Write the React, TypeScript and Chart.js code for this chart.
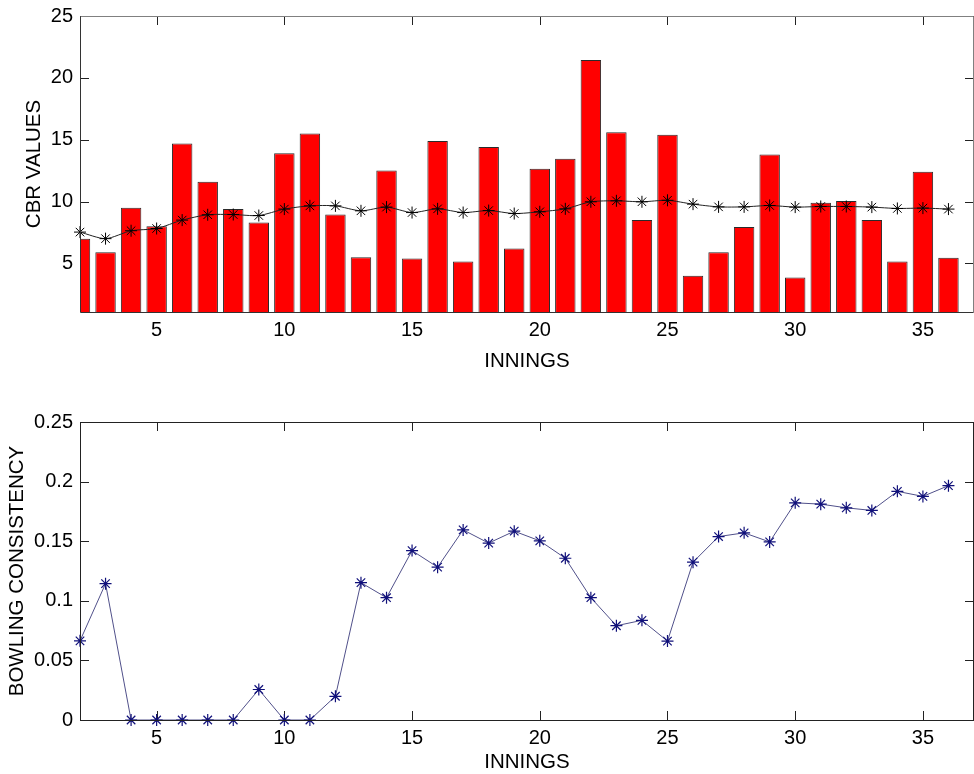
import React, { useEffect, useRef } from "react";
import { Chart, registerables } from "chart.js";

Chart.register(...registerables);

// ---- data ----
const innings = [2, 3, 4, 5, 6, 7, 8, 9, 10, 11, 12, 13, 14, 15, 16, 17, 18, 19, 20, 21, 22, 23, 24, 25, 26, 27, 28, 29, 30, 31, 32, 33, 34, 35, 36];
const cbrValues = [7.0, 5.9, 9.5, 8.0, 14.7, 11.6, 9.4, 8.3, 13.9, 15.5, 8.95, 5.5, 12.5, 5.4, 14.9, 5.15, 14.4, 6.2, 12.65, 13.45, 21.45, 15.6, 8.5, 15.4, 4.0, 5.9, 7.95, 13.8, 3.85, 9.9, 10.05, 8.5, 5.15, 12.4, 5.45];
const cbrAverage = [7.53, 7.0, 7.64, 7.82, 8.5, 8.93, 8.95, 8.87, 9.39, 9.65, 9.65, 9.25, 9.55, 9.11, 9.41, 9.11, 9.27, 9.03, 9.17, 9.41, 9.98, 10.06, 9.98, 10.1, 9.79, 9.57, 9.57, 9.68, 9.55, 9.6, 9.6, 9.55, 9.44, 9.47, 9.39];
const bowlingConsistency = [0.0664, 0.1144, 0, 0, 0, 0, 0, 0.0256, 0, 0, 0.0199, 0.1152, 0.1026, 0.1421, 0.1282, 0.1595, 0.1484, 0.1584, 0.1503, 0.1357, 0.1026, 0.0791, 0.0836, 0.0662, 0.1324, 0.1539, 0.157, 0.1494, 0.1822, 0.1811, 0.178, 0.1758, 0.1918, 0.1876, 0.1966];
const xTicks = [5, 10, 15, 20, 25, 30, 35];
const cbrTicks = [5, 10, 15, 20, 25];
const consistencyTicks = [0, 0.05, 0.1, 0.15, 0.2, 0.25];

const FONT = "'Liberation Sans', Arial, Helvetica, sans-serif";

function framePlugin(edgeColors: { top: string; right: string; bottom: string; left: string }, tickColor: string) {
  return {
    id: "matlabFrame",
    beforeDatasetsDraw(chart: any) {
      const { ctx, chartArea, scales } = chart;
      const { left, right, top, bottom } = chartArea;
      const L = 9;
      ctx.save();
      ctx.lineWidth = 1;
      ctx.strokeStyle = tickColor;
      ctx.beginPath();
      scales.x.ticks.forEach((t: any) => {
        const px = Math.round(scales.x.getPixelForValue(t.value)) + 0.5;
        ctx.moveTo(px, bottom);
        ctx.lineTo(px, bottom - L);
        ctx.moveTo(px, top);
        ctx.lineTo(px, top + L);
      });
      scales.y.ticks.forEach((t: any) => {
        const py = Math.round(scales.y.getPixelForValue(t.value)) + 0.5;
        ctx.moveTo(left, py);
        ctx.lineTo(left + L, py);
        ctx.moveTo(right, py);
        ctx.lineTo(right - L, py);
      });
      ctx.stroke();
      ctx.restore();
    },
    afterDatasetsDraw(chart: any) {
      const { ctx, chartArea } = chart;
      const l = Math.round(chartArea.left) + 0.5;
      const r = Math.round(chartArea.right) - 0.5;
      const t = Math.round(chartArea.top) + 0.5;
      const b = Math.round(chartArea.bottom) + 0.5;
      ctx.save();
      ctx.lineWidth = 1;
      const seg = (c: string, x1: number, y1: number, x2: number, y2: number) => {
        ctx.strokeStyle = c;
        ctx.beginPath();
        ctx.moveTo(x1, y1);
        ctx.lineTo(x2, y2);
        ctx.stroke();
      };
      seg(edgeColors.top, l, t, r, t);
      seg(edgeColors.right, r, t, r, b);
      seg(edgeColors.bottom, l, b, r, b);
      seg(edgeColors.left, l, t, l, b);
      ctx.restore();
    },
  };
}

function baseScales(opts: {
  yMin: number;
  yMax: number;
  yTicks: number[];
  yTitle: string;
  yTitlePad: number;
  xHeight: number;
  xTitlePad: number;
}) {
  return {
    x: {
      type: "linear",
      min: 2,
      max: 37,
      offset: false,
      grid: { display: false, drawTicks: false },
      border: { display: false },
      afterBuildTicks: (s: any) => {
        s.ticks = xTicks.map((v) => ({ value: v }));
      },
      afterFit: (s: any) => {
        s.height = opts.xHeight;
        s.paddingLeft = 0;
        s.paddingRight = 0;
      },
      ticks: {
        padding: 6,
        color: "#000",
        maxRotation: 0,
        autoSkip: false,
        font: { family: FONT, size: 20 },
        callback: (v: any) => String(v),
      },
      title: {
        display: true,
        text: "INNINGS",
        color: "#000",
        font: { family: FONT, size: 20.5, lineHeight: 1.1 },
        padding: { top: 0, bottom: opts.xTitlePad },
      },
    },
    y: {
      type: "linear",
      min: opts.yMin,
      max: opts.yMax,
      grid: { display: false, drawTicks: false },
      border: { display: false },
      afterBuildTicks: (s: any) => {
        s.ticks = opts.yTicks.map((v) => ({ value: v }));
      },
      afterFit: (s: any) => {
        s.width = 80;
        s.paddingTop = 0;
        s.paddingBottom = 0;
      },
      ticks: {
        padding: 7,
        color: "#000",
        autoSkip: false,
        font: { family: FONT, size: 20 },
        callback: (v: any) => String(v),
      },
      title: {
        display: true,
        text: opts.yTitle,
        color: "#000",
        font: { family: FONT, size: 20.5, lineHeight: 1.1 },
        padding: { top: opts.yTitlePad, bottom: 0 },
      },
    },
  };
}

export default function App() {
  const topRef = useRef<HTMLCanvasElement | null>(null);
  const botRef = useRef<HTMLCanvasElement | null>(null);

  useEffect(() => {
    if (!topRef.current || !botRef.current) return;

    const top = new Chart(topRef.current, {
      type: "bar",
      data: {
        datasets: [
          {
            type: "line",
            label: "Average",
            data: innings.map((x, i) => ({ x, y: cbrAverage[i] })),
            borderColor: "#222",
            borderWidth: 1,
            tension: 0.25,
            pointStyle: "star",
            pointRadius: 6,
            pointBorderColor: "#000",
            pointBorderWidth: 1,
            pointBackgroundColor: "#000",
            clip: false,
            order: 0,
          } as any,
          {
            type: "bar",
            label: "CBR",
            data: innings.map((x, i) => ({ x, y: cbrValues[i] })),
            backgroundColor: "#ff0000",
            borderColor: "#2a2a2a",
            borderWidth: 1,
            barPercentage: 0.8,
            categoryPercentage: 1,
            order: 1,
          } as any,
        ],
      },
      options: {
        animation: false,
        responsive: false,
        maintainAspectRatio: false,
        layout: { autoPadding: false, padding: { top: 16, right: 0, left: 0, bottom: 0 } },
        plugins: { legend: { display: false }, tooltip: { enabled: false } },
        scales: baseScales({
          yMin: 1.07,
          yMax: 25,
          yTicks: cbrTicks,
          yTitle: "CBR VALUES",
          yTitlePad: 23,
          xHeight: 68,
          xTitlePad: 7,
        }) as any,
      },
      plugins: [framePlugin({ top: "#808080", right: "#808080", bottom: "#333", left: "#333" }, "#222")],
    });

    const bottom = new Chart(botRef.current, {
      type: "line",
      data: {
        datasets: [
          {
            label: "Bowling consistency",
            data: innings.map((x, i) => ({ x, y: bowlingConsistency[i] })),
            borderColor: "#50508a",
            borderWidth: 1,
            tension: 0,
            pointStyle: "star",
            pointRadius: 6,
            pointBorderColor: "#10107a",
            pointBorderWidth: 1.2,
            pointBackgroundColor: "#10107a",
            clip: false,
          } as any,
        ],
      },
      options: {
        animation: false,
        responsive: false,
        maintainAspectRatio: false,
        layout: { autoPadding: false, padding: { top: 32, right: 0, left: 0, bottom: 0 } },
        plugins: { legend: { display: false }, tooltip: { enabled: false } },
        scales: baseScales({
          yMin: 0,
          yMax: 0.25,
          yTicks: consistencyTicks,
          yTitle: "BOWLING CONSISTENCY",
          yTitlePad: 6,
          xHeight: 54,
          xTitlePad: 0,
        }) as any,
      },
      plugins: [framePlugin({ top: "#222", right: "#222", bottom: "#222", left: "#222" }, "#222")],
    });

    return () => {
      top.destroy();
      bottom.destroy();
    };
  }, []);

  return (
    <div style={{ position: "absolute", left: 0, top: 0, width: 974, height: 774, background: "#fff", overflow: "hidden" }}>
      <canvas ref={topRef} width={974} height={380} style={{ position: "absolute", left: 0, top: 0, display: "block" }} />
      <canvas ref={botRef} width={974} height={384} style={{ position: "absolute", left: 0, top: 390, display: "block" }} />
    </div>
  );
}
